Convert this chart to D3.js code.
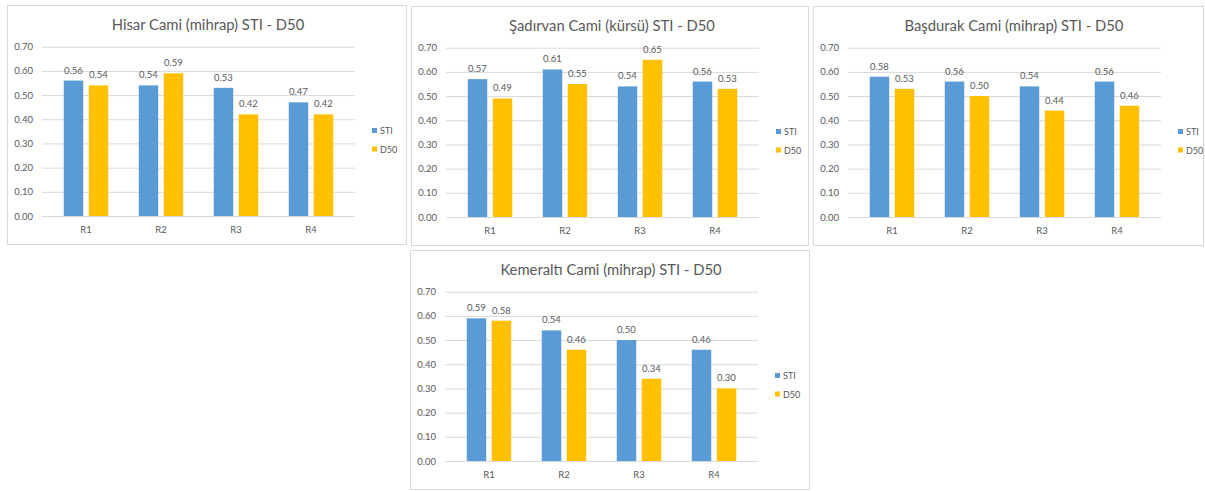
<!DOCTYPE html>
<html>
<head>
<meta charset="utf-8">
<script src="https://cdn.jsdelivr.net/npm/d3@7"></script>
<style>
  html, body { margin: 0; padding: 0; background: #ffffff; }
  svg { display: block; }
  text { font-family: Lato, "Open Sans", sans-serif; fill: #595959; }
</style>
</head>
<body>
<svg id="chart" width="1205" height="491"></svg>
<script>
// Room categories and series names
const rooms = ["R1", "R2", "R3", "R4"];
const seriesNames = ["STI", "D50"];
const yTicks = [0, 0.1, 0.2, 0.3, 0.4, 0.5, 0.6, 0.7];

// Chart titles
const titles = [
  "Hisar Cami (mihrap) STI - D50",
  "Şadırvan Cami (kürsü) STI - D50",
  "Başdurak Cami (mihrap) STI - D50",
  "Kemeraltı Cami (mihrap) STI - D50"
];

// STI values per mosque (R1..R4)
const stiHisar     = [0.56, 0.54, 0.53, 0.47];
const stiSadirvan  = [0.57, 0.61, 0.54, 0.56];
const stiBasdurak  = [0.58, 0.56, 0.54, 0.56];
const stiKemeralti = [0.59, 0.54, 0.50, 0.46];

// D50 values per mosque (R1..R4)
const d50Hisar     = [0.54, 0.59, 0.42, 0.42];
const d50Sadirvan  = [0.49, 0.55, 0.65, 0.53];
const d50Basdurak  = [0.53, 0.50, 0.44, 0.46];
const d50Kemeralti = [0.58, 0.46, 0.34, 0.30];

const colors = { STI: "#5B9BD5", D50: "#FFC000" };

const panels = [
  { title: titles[0], sti: stiHisar,     d50: d50Hisar,     x: 7,   y: 5,   w: 400 },
  { title: titles[1], sti: stiSadirvan,  d50: d50Sadirvan,  x: 411, y: 6,   w: 398 },
  { title: titles[2], sti: stiBasdurak,  d50: d50Basdurak,  x: 813, y: 6,   w: 391 },
  { title: titles[3], sti: stiKemeralti, d50: d50Kemeralti, x: 410, y: 250, w: 400 }
];

const svg = d3.select("#chart");
const H = 240;

panels.forEach(p => {
  const g = svg.append("g").attr("transform", `translate(${p.x},${p.y})`);

  // chart frame
  g.append("rect")
    .attr("x", 0.5).attr("y", 0.5)
    .attr("width", p.w - 1).attr("height", H - 1)
    .attr("fill", "#ffffff")
    .attr("stroke", "#d9d9d9");

  const plotLeft = 35, plotRight = 348;
  const y = d3.scaleLinear().domain([0, 0.7]).range([211, 41.7]);
  const x0 = d3.scaleBand().domain(rooms).range([41.5, 341.5])
    .paddingInner(0.407).paddingOuter(0.2035);
  const x1 = d3.scaleBand().domain(seriesNames).range([0, x0.bandwidth()])
    .paddingInner(0.22).paddingOuter(0);

  // title
  g.append("text")
    .attr("x", 201).attr("y", 25)
    .attr("text-anchor", "middle")
    .style("font-size", "14.8px")
    .attr("fill", "#606060")
    .text(p.title);

  // y axis with gridlines
  const yAxis = d3.axisLeft(y)
    .tickValues(yTicks)
    .tickFormat(d3.format(".2f"))
    .tickSize(-(plotRight - plotLeft))
    .tickPadding(9);
  const ya = g.append("g")
    .attr("transform", `translate(${plotLeft},0)`)
    .call(yAxis);
  ya.select(".domain").remove();
  ya.selectAll(".tick line").attr("stroke", "#d9d9d9");
  ya.selectAll(".tick text")
    .style("font-family", "Lato, sans-serif")
    .style("font-size", "9.5px")
    .attr("fill", "#595959");

  // x axis labels
  const xa = g.append("g")
    .attr("transform", `translate(0,${y(0)})`)
    .call(d3.axisBottom(x0).tickSize(0).tickPadding(10));
  xa.select(".domain").remove();
  xa.selectAll(".tick text")
    .style("font-family", "Lato, sans-serif")
    .style("font-size", "9.5px")
    .attr("fill", "#595959");

  const rows = rooms.map((r, i) => ({ room: r, STI: p.sti[i], D50: p.d50[i] }));

  const groups = g.selectAll(".grp").data(rows).join("g")
    .attr("class", "grp")
    .attr("transform", d => `translate(${x0(d.room)},0)`);

  groups.selectAll("rect").data(d => seriesNames.map(k => ({ key: k, value: d[k] })))
    .join("rect")
    .attr("x", d => x1(d.key))
    .attr("width", x1.bandwidth())
    .attr("y", d => y(d.value))
    .attr("height", d => y(0) - y(d.value))
    .attr("fill", d => colors[d.key]);

  groups.selectAll("text.val").data(d => seriesNames.map(k => ({ key: k, value: d[k] })))
    .join("text")
    .attr("class", "val")
    .attr("x", d => x1(d.key) + x1.bandwidth() / 2)
    .attr("y", d => y(d.value) - 7)
    .attr("text-anchor", "middle")
    .style("font-size", "9.5px")
    .text(d => d3.format(".2f")(d.value));

  // legend
  const lg = g.append("g").attr("transform", "translate(365,123)");
  seriesNames.forEach((k, i) => {
    lg.append("rect")
      .attr("x", 0).attr("y", i * 18.5)
      .attr("width", 5).attr("height", 5)
      .attr("fill", colors[k]);
    lg.append("text")
      .attr("x", 8).attr("y", i * 18.5 + 6)
      .style("font-size", "9px")
      .text(k);
  });
});
</script>
</body>
</html>
